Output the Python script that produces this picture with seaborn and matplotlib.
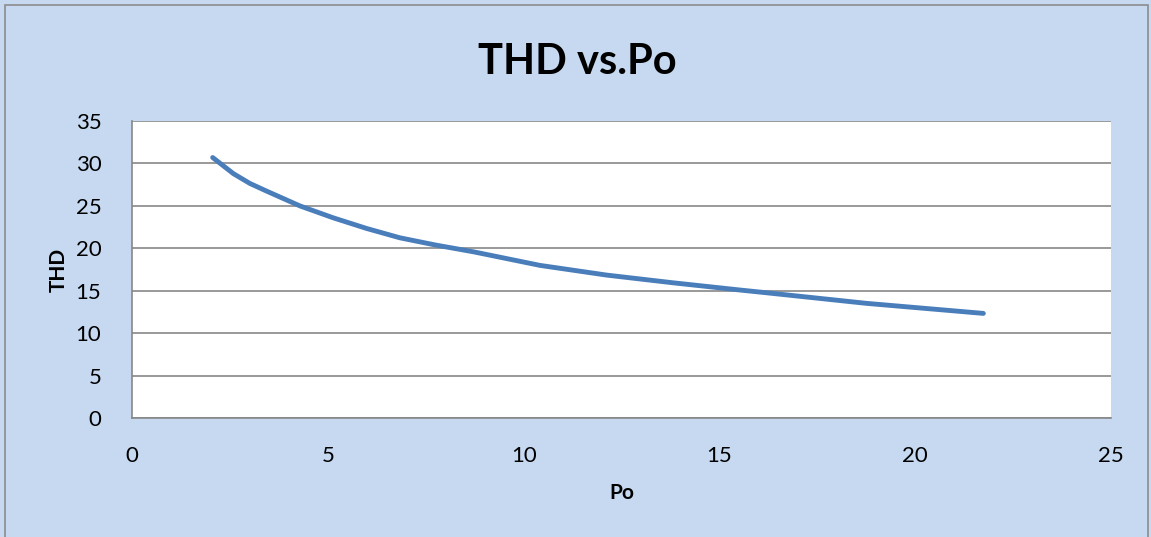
import matplotlib
matplotlib.use("Agg")
import matplotlib.pyplot as plt
import seaborn as sns
import pandas as pd
from matplotlib.patches import Rectangle

po = [2.06, 2.59, 3.01, 3.44, 4.29, 5.14, 5.99, 6.84, 7.75, 8.72, 10.42, 12.12, 13.82, 15.53, 16.2, 18.76, 21.74]
thd = [30.7, 28.8, 27.65, 26.74, 25.0, 23.6, 22.35, 21.25, 20.4, 19.6, 18.0, 16.86, 15.95, 15.1, 14.78, 13.53, 12.35]
x_ticks = [0, 5, 10, 15, 20, 25]
y_ticks = [0, 5, 10, 15, 20, 25, 30, 35]

sns.set_theme(style="white")
plt.rcParams['font.family'] = ['Lato', 'DejaVu Sans']
plt.rcParams['text.color'] = 'black'
plt.rcParams['axes.labelcolor'] = 'black'

W, H = 1151, 537
fig = plt.figure(figsize=(W / 100, H / 100), dpi=100)
fig.patch.set_facecolor('#C6D9F1')
fig.patches.append(Rectangle((5 / W, -0.01), (1148 - 5) / W, 1 - 5 / H + 0.01,
                             transform=fig.transFigure, fill=False,
                             edgecolor='#8C8C8C', linewidth=1.2))

ax = fig.add_axes([132 / W, 1 - 418.3 / H, (1111 - 132) / W, (418.3 - 121) / H])
ax.set_facecolor('white')

df = pd.DataFrame({'Po': po, 'THD': thd})
sns.lineplot(data=df, x='Po', y='THD', ax=ax, color='#4A7EBB', linewidth=3.5,
             solid_capstyle='round', solid_joinstyle='round')

ax.set_xlim(0, 25)
ax.set_ylim(0, 35)
ax.set_xticks(x_ticks)
ax.set_yticks(y_ticks)
ax.yaxis.grid(True, color='#878787', linewidth=1.2)
ax.xaxis.grid(False)
for s in ['top', 'right']:
    ax.spines[s].set_visible(False)
for s in ['left', 'bottom']:
    ax.spines[s].set_color('#878787')
    ax.spines[s].set_linewidth(1.2)
ax.tick_params(axis='both', length=0, labelsize=16, colors='black')
ax.tick_params(axis='y', pad=22)
ax.tick_params(axis='x', pad=20)

ax.set_xlabel('Po', fontsize=15, fontweight='bold', labelpad=12, color='black')
ax.set_ylabel('THD', fontsize=15, fontweight='bold', labelpad=5, color='black')
fig.text(0.502, 1 - 62 / H, 'THD vs.Po', ha='center', va='center',
         fontsize=30, fontweight='bold', color='black')

fig.savefig('out.png', dpi=100, facecolor=fig.get_facecolor())
